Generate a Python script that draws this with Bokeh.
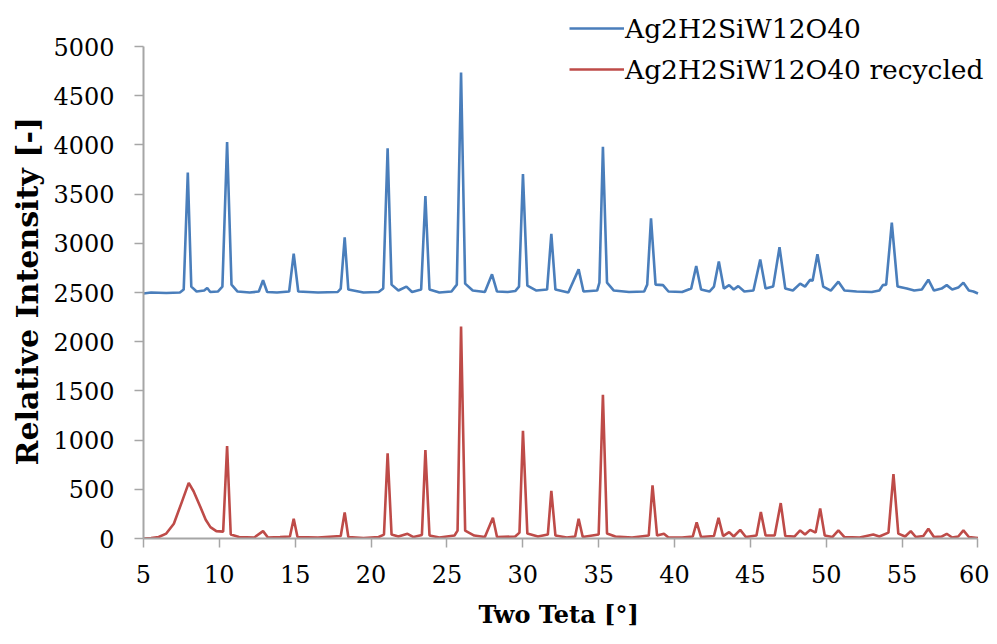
from bokeh.plotting import figure
from bokeh.models import Range1d, FixedTicker, Legend, LegendItem, Title
from bokeh.embed import file_html
from bokeh.resources import INLINE

series_names = ["Ag2H2SiW12O40", "Ag2H2SiW12O40 recycled"]
x_title = "Two Teta [°]"
y_title = "Relative Intensity [-]"

two_theta_fresh = [
    5.0, 5.5, 6.5, 7.4, 7.65, 7.92, 8.15, 8.5, 9.0, 9.2, 9.4, 9.9, 10.2, 10.51, 10.8,
    11.2, 12.0, 12.6, 12.88, 13.15, 13.8, 14.6, 14.9, 15.2, 16.5, 17.8, 18.0, 18.26,
    18.5, 19.5, 20.5, 20.8, 21.09, 21.35, 21.8, 22.33, 22.7, 23.3, 23.58, 23.85, 24.5,
    25.3, 25.65, 25.93, 26.2, 26.7, 27.5, 27.97, 28.3, 29.0, 29.5, 29.75, 30.01, 30.3,
    30.9, 31.6, 31.88, 32.15, 33.0, 33.68, 34.0, 34.9, 35.05, 35.28, 35.55, 36.0, 37.0,
    38.0, 38.2, 38.45, 38.75, 39.24, 39.6, 40.5, 41.1, 41.43, 41.75, 42.3, 42.6, 42.92,
    43.25, 43.6, 43.9, 44.2, 44.6, 45.2, 45.65, 46.0, 46.5, 46.92, 47.3, 47.8, 48.28,
    48.6, 48.94, 49.1, 49.42, 49.8, 50.3, 50.8, 51.2, 52.0, 53.0, 53.5, 53.73, 53.95,
    54.32, 54.7, 55.31, 55.8, 56.3, 56.73, 57.1, 57.6, 57.94, 58.3, 58.7, 59.04, 59.4,
    59.7, 60.0,
]
intensity_fresh = [
    2490, 2500, 2495, 2500, 2530, 3720, 2560, 2510, 2520, 2545, 2505, 2510, 2560, 4030, 2580,
    2510, 2500, 2510, 2625, 2505, 2500, 2510, 2895, 2510, 2500, 2505, 2540, 3060,
    2530, 2500, 2505, 2540, 3965, 2580, 2520, 2560, 2505, 2530, 3480, 2530, 2500,
    2510, 2580, 4735, 2590, 2520, 2505, 2685, 2510, 2505, 2515, 2560, 3705, 2570,
    2520, 2530, 3095, 2530, 2500, 2735, 2510, 2520, 2600, 3980, 2600, 2520, 2505,
    2510, 2580, 3255, 2580, 2575, 2510, 2505, 2540, 2770, 2530, 2510, 2560, 2815,
    2540, 2575, 2530, 2565, 2510, 2520, 2835, 2540, 2560, 2960, 2540, 2520, 2590,
    2560, 2630, 2620, 2890, 2560, 2520, 2610, 2520, 2510, 2505, 2520, 2575, 2580,
    3210, 2560, 2540, 2520, 2530, 2630, 2520, 2540, 2575, 2530, 2550, 2600, 2520,
    2510, 2490,
]

two_theta_recycled = [
    5.0, 5.5, 6.0, 6.5, 7.0, 7.5, 7.98, 8.3, 8.75, 9.1, 9.41, 9.8, 10.25, 10.51, 10.75,
    11.3, 12.3, 12.88, 13.2, 14.0, 14.65, 14.9, 15.15, 16.5, 18.0, 18.26, 18.5, 19.5,
    20.5, 20.85, 21.09, 21.35, 21.8, 22.4, 22.8, 23.35, 23.58, 23.85, 24.5, 25.5, 25.7,
    25.93, 26.2, 26.8, 27.5, 28.03, 28.3, 29.5, 29.78, 30.01, 30.3, 31.0, 31.65, 31.88,
    32.15, 32.9, 33.45, 33.68, 33.95, 35.0, 35.28, 35.55, 36.1, 37.2, 38.3, 38.55, 38.85,
    39.3, 39.6, 40.5, 41.2, 41.46, 41.75, 42.6, 42.9, 43.2, 43.6, 43.9, 44.33, 44.7,
    45.4, 45.69, 46.0, 46.6, 47.0, 47.3, 47.9, 48.28, 48.6, 48.94, 49.3, 49.6, 49.9,
    50.4, 50.8, 51.2, 52.2, 53.1, 53.5, 54.1, 54.43, 54.75, 55.2, 55.57, 55.9, 56.4,
    56.73, 57.1, 57.6, 57.94, 58.3, 58.7, 59.04, 59.4, 60.0,
]
intensity_recycled = [
    0, 5, 15, 50, 150, 360, 565, 480, 320, 190, 116, 75, 70, 940, 40,
    15, 10, 75, 10, 15, 20, 200, 15, 10, 25, 265, 15, 5,
    15, 40, 865, 40, 20, 48, 15, 35, 900, 30, 10, 30, 80,
    2155, 80, 30, 15, 210, 15, 20, 60, 1095, 50, 20, 40, 485,
    30, 10, 20, 200, 15, 40, 1460, 50, 20, 10, 30, 540, 30,
    48, 10, 10, 20, 165, 15, 25, 210, 25, 65, 20, 88, 15,
    30, 270, 30, 30, 360, 25, 20, 82, 40, 88, 60, 305, 30,
    15, 82, 15, 10, 40, 20, 60, 655, 50, 20, 75, 15, 25,
    100, 15, 20, 48, 10, 20, 82, 15, 5,
]

x_ticks = [5, 10, 15, 20, 25, 30, 35, 40, 45, 50, 55, 60]
y_ticks = [0, 500, 1000, 1500, 2000, 2500, 3000, 3500, 4000, 4500, 5000]

AXIS_GRAY = "#A6A6A6"
SERIF = "DejaVu Serif"

# frame extends past the last ticks so the legend (which sits above/right) is not clipped
Y_TOP = 5366
X_END = 60.76

p = figure(width=989, height=644, output_backend="svg", toolbar_location=None,
           x_range=Range1d(5, X_END), y_range=Range1d(0, Y_TOP),
           min_border_left=143, min_border_right=0, min_border_top=10,
           min_border_bottom=106)
p.outline_line_color = None
p.xgrid.visible = False
p.ygrid.visible = False

r1 = p.line(two_theta_fresh, intensity_fresh, line_color="#4A7EBB", line_width=2.6)
r2 = p.line(two_theta_recycled, intensity_recycled, line_color="#BE4B48", line_width=2.6)

for ax in (p.xaxis[0], p.yaxis[0]):
    ax.axis_line_color = AXIS_GRAY
    ax.axis_line_width = 2
    ax.major_tick_line_color = AXIS_GRAY
    ax.major_tick_line_width = 1.5
    ax.major_tick_in = 0
    ax.major_tick_out = 9
    ax.minor_tick_line_color = None
    ax.major_label_text_font = SERIF
    ax.major_label_text_font_size = "24px"
    ax.major_label_text_color = "#000000"

p.xaxis[0].ticker = FixedTicker(ticks=x_ticks)
p.yaxis[0].ticker = FixedTicker(ticks=y_ticks)
p.xaxis[0].bounds = (5, 60)
p.yaxis[0].bounds = (0, 5000)
p.xaxis[0].major_label_standoff = 17
p.yaxis[0].major_label_standoff = 20

# axis titles, placed along the 0..5000 / 5..60 spans rather than the taller/wider frame
ytitle = Title(text=y_title, align="left", offset=73,
               text_font=SERIF, text_font_size="30px", text_font_style="bold",
               text_color="#000000", standoff=12)
p.add_layout(ytitle, "left")
xtitle = Title(text=x_title, align="left", offset=335,
               text_font=SERIF, text_font_size="24px", text_font_style="bold",
               text_color="#000000", standoff=25)
p.add_layout(xtitle, "below")

legend = Legend(items=[LegendItem(label=series_names[0], renderers=[r1]),
                       LegendItem(label=series_names[1], renderers=[r2])],
                location=(426, 451), orientation="vertical",
                label_text_font=SERIF, label_text_font_size="26.5px",
                label_text_color="#000000",
                glyph_width=55, glyph_height=36, label_height=36, spacing=5,
                label_standoff=1, padding=0, margin=0,
                border_line_color=None, background_fill_alpha=0)
p.add_layout(legend, "center")

open("out.html", "w").write(file_html(p, INLINE))
